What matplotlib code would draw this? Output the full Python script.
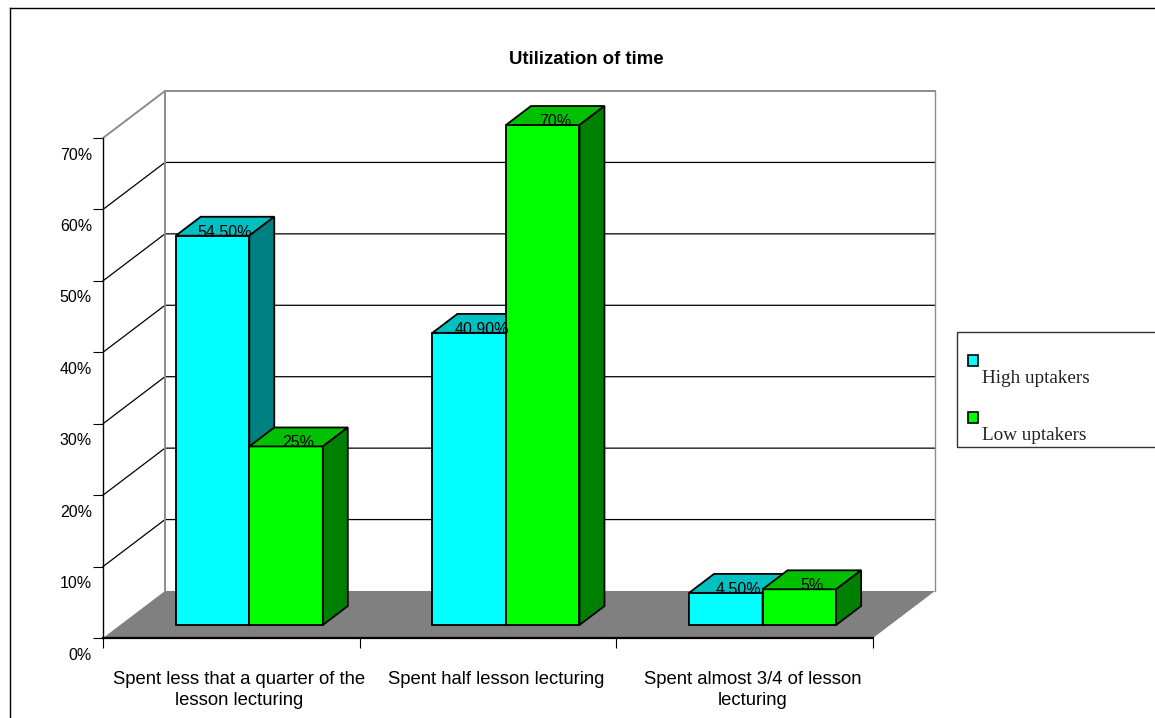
import matplotlib
matplotlib.use("Agg")
import matplotlib.pyplot as plt
from matplotlib.patches import Polygon, Rectangle
from matplotlib.lines import Line2D

categories = ["Spent less that a quarter of the\nlesson lecturing",
              "Spent half lesson lecturing",
              "Spent almost 3/4 of lesson\nlecturing"]
high_uptakers = [54.5, 40.9, 4.5]
low_uptakers = [25, 70, 5]
high_labels = ["54.50%", "40.90%", "4.50%"]
low_labels = ["25%", "70%", "5%"]
y_ticks = [0, 10, 20, 30, 40, 50, 60, 70]
title = "Utilization of time"

W, H = 1155, 718
# how far the back wall sits from the front plane, in data units
DEPTH_X = 62 / (770 / 3)
DEPTH_Y = 47 / (500 / 70)
BAR_W = 0.2865
BAR_SHIFT = 0.003
BAR_NEAR, BAR_FAR = 0.277, 0.68


def proj(x, y, d):
    return (x + DEPTH_X * d, y + DEPTH_Y * d)


def px(x, y):
    # figure fraction from pixel position measured from the top left
    return (x / W, 1 - y / H)


def box(ax, x0, x1, val, front, top, side):
    a, b = BAR_NEAR, BAR_FAR
    faces = [
        ([proj(x0, 0, a), proj(x1, 0, a), proj(x1, val, a), proj(x0, val, a)], front),
        ([proj(x0, val, a), proj(x1, val, a), proj(x1, val, b), proj(x0, val, b)], top),
        ([proj(x1, 0, a), proj(x1, 0, b), proj(x1, val, b), proj(x1, val, a)], side),
    ]
    for pts, col in faces:
        ax.add_patch(Polygon(pts, closed=True, facecolor=col, edgecolor="black",
                             linewidth=1.3, joinstyle="miter", clip_on=False, zorder=5))


fig = plt.figure(figsize=(W / 100, H / 100), dpi=100)
plt.rcParams["font.family"] = "Liberation Sans"
ax = fig.add_axes([103 / W, (H - 638) / H, 770 / W, 500 / H])
ax.set_xlim(0, 3)
ax.set_ylim(0, 70)
ax.patch.set_visible(False)
for s in ["top", "right"]:
    ax.spines[s].set_visible(False)
ax.spines["left"].set_linewidth(1.0)
ax.spines["left"].set_zorder(4)
ax.spines["bottom"].set_linewidth(1.6)
ax.spines["bottom"].set_zorder(4)

# floor
ax.add_patch(Polygon([proj(0, 0, 0), proj(3, 0, 0), proj(3, 0, 1), proj(0, 0, 1)],
                     closed=True, facecolor="#808080", edgecolor="none",
                     clip_on=False, zorder=1))

# walls and gridlines
for v in y_ticks[1:]:
    col = "#8c8c8c" if v == 70 else "black"
    lw = 1.4 if v == 70 else 0.9
    ax.plot(*zip(proj(0, v, 0), proj(0, v, 1), proj(3, v, 1)), color=col, lw=lw,
            clip_on=False, zorder=2, solid_joinstyle="miter")
ax.plot(*zip(proj(0, 0, 1), proj(0, 70, 1)), color="#8c8c8c", lw=1.4, clip_on=False, zorder=2)
ax.plot(*zip(proj(3, 0, 1), proj(3, 70, 1)), color="#8c8c8c", lw=1.0, clip_on=False, zorder=2)

# bars, back to front within each category
for i in range(len(categories)):
    c = i + 0.5 + BAR_SHIFT
    box(ax, c - BAR_W, c, high_uptakers[i], "#00FFFF", "#00C0C0", "#008080")
    box(ax, c, c + BAR_W, low_uptakers[i], "#00FF00", "#00C000", "#008000")

for i in range(len(categories)):
    c = i + 0.5 + BAR_SHIFT
    for x, val, lab in [(c - BAR_W / 2, high_uptakers[i], high_labels[i]),
                        (c + BAR_W / 2, low_uptakers[i], low_labels[i])]:
        # centred on the bar top
        ax.annotate(lab, proj(x, val, (BAR_NEAR + BAR_FAR) / 2),
                    xytext=(0, -6), textcoords="offset pixels",
                    ha="center", va="center", fontsize=11.5, color="black",
                    zorder=6, annotation_clip=False)

ax.set_xticks([0, 1, 2, 3])
ax.set_xticklabels([])
ax.set_yticks(y_ticks)
ax.set_yticklabels([])
ax.tick_params(axis="both", length=7.2, width=0.8, direction="out")

for v in y_ticks:
    ax.annotate(f"{v}%", (0, v), xytext=(-11, -17), textcoords="offset pixels",
                ha="right", va="center", fontsize=11.5, annotation_clip=False)
for i, cat in enumerate(categories):
    ax.annotate(cat, (i + 0.5, 0), xytext=(8, -33), textcoords="offset pixels",
                ha="center", va="top", fontsize=13.3, linespacing=1.28,
                annotation_clip=False)

fig.text(*px(586.5, 60), title, ha="center", va="center", fontsize=13.4, fontweight="bold")

# outer frame runs off the right and bottom edge
x0, y0 = px(10, 8)
fig.add_artist(Line2D([x0, x0], [0, y0], color="black", lw=1.0))
fig.add_artist(Line2D([x0, 1], [y0, y0], color="black", lw=1.0))

# legend box, swatches sit above their text
lx, ly = px(957, 447)
fig.add_artist(Rectangle((lx, ly), 1 - lx + 0.01, 115 / H, transform=fig.transFigure,
                         facecolor="white", edgecolor="#333333", lw=1.0))
for (sy, ty, col, name) in [(355, 383, "#00FFFF", "High uptakers"),
                            (412, 440, "#00FF00", "Low uptakers")]:
    sx, sb = px(968, sy + 11)
    fig.add_artist(Rectangle((sx, sb), 10 / W, 11 / H, transform=fig.transFigure,
                             facecolor=col, edgecolor="black", lw=1.2))
    fig.text(*px(982, ty), name, ha="left", va="baseline", fontsize=13.8,
             family="Liberation Serif", color="#222222")

fig.savefig("out.png", dpi=100)
